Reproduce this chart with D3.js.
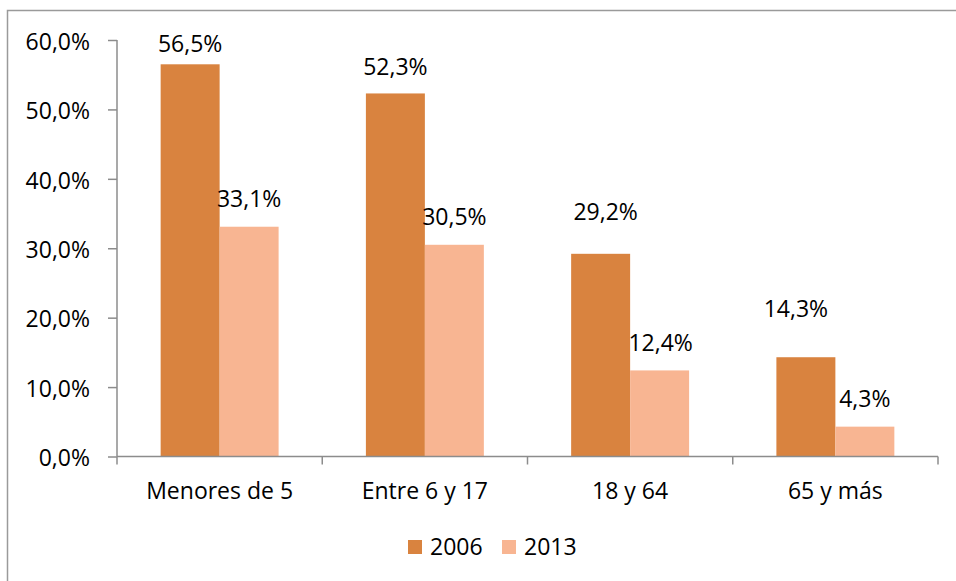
<!DOCTYPE html>
<html>
<head>
<meta charset="utf-8">
<script src="https://cdn.jsdelivr.net/npm/d3@7/dist/d3.min.js"></script>
<style>
  body { margin: 0; background: #fff; }
  text { font-family: "Open Sans", "Noto Sans", sans-serif; fill: #000; }
</style>
</head>
<body>
<script>
// data (percent)
var categories = ["Menores de 5", "Entre 6 y 17", "18 y 64", "65 y más"];
var seriesNames = ["2006", "2013"];
var values2006 = [56.5, 52.3, 29.2, 14.3];
var values2013 = [33.1, 30.5, 12.4, 4.3];
var yTicks = [0, 10, 20, 30, 40, 50, 60];

var colors = { "2006": "#d9833f", "2013": "#f8b592" };

// label offsets (dx, gap above bar top) to mimic the hand-moved labels
var labelNudge = {
  "2006": [[0, 12], [0, 18], [5, 34], [-10, 40]],
  "2013": [[0, 19.5], [0, 19.5], [1, 19.5], [0, 19.5]]
};

var w = 956;
var h = 581;
var plotLeft = 117, plotRight = 938, plotTop = 40, plotBottom = 456.5;

var svg = d3.select("body")
            .append("svg")
            .attr("width", w)
            .attr("height", h);

// outer frame (runs off the right and bottom edge)
svg.append("rect")
   .attr("x", 7.5)
   .attr("y", 10.5)
   .attr("width", 1000)
   .attr("height", 1000)
   .attr("fill", "none")
   .attr("stroke", "#9a9a9a")
   .attr("stroke-width", 1.5);

var locale = d3.formatLocale({ decimal: ",", thousands: ".", grouping: [3], currency: ["", "€"] });
var fmt = locale.format(".1f");

var y = d3.scaleLinear()
          .domain([0, 60])
          .range([plotBottom, plotTop]);

var x0 = d3.scaleBand()
           .domain(categories)
           .range([plotLeft, plotRight]);

var x1 = d3.scaleBand()
           .domain(seriesNames)
           .range([0, x0.bandwidth()])
           .paddingOuter(0.74);

var rows = categories.map(function(c, i) {
  return { cat: c, vals: [
    { s: "2006", v: values2006[i], i: i },
    { s: "2013", v: values2013[i], i: i }
  ]};
});

var axisColor = "#8c8c8c";

// y axis
var yAxis = svg.append("g")
               .attr("transform", "translate(" + plotLeft + ",0)")
               .call(d3.axisLeft(y).tickValues(yTicks).tickSize(9).tickPadding(18)
                       .tickFormat(function(d) { return fmt(d) + "%"; }));
yAxis.select(".domain").attr("stroke", axisColor).attr("stroke-width", 1.5)
     .attr("d", "M0," + plotTop + "V" + plotBottom);
yAxis.selectAll(".tick line").attr("stroke", axisColor).attr("stroke-width", 1.5);
yAxis.selectAll(".tick text")
     .attr("dy", "0.4em")
     .style("font-size", "23px")
     .attr("fill", "#000");

// groups of bars
var groups = svg.selectAll(".grp")
                .data(rows)
                .enter().append("g")
                .attr("class", "grp")
                .attr("transform", function(d) { return "translate(" + x0(d.cat) + ",0)"; });

groups.selectAll("rect")
      .data(function(d) { return d.vals; })
      .enter().append("rect")
      .attr("x", function(d) { return x1(d.s); })
      .attr("y", function(d) { return y(d.v); })
      .attr("width", x1.bandwidth())
      .attr("height", function(d) { return y(0) - y(d.v); })
      .attr("fill", function(d) { return colors[d.s]; });

groups.selectAll("text.lbl")
      .data(function(d) { return d.vals; })
      .enter().append("text")
      .attr("class", "lbl")
      .attr("x", function(d) { return x1(d.s) + x1.bandwidth() / 2 + labelNudge[d.s][d.i][0]; })
      .attr("y", function(d) { return y(d.v) - labelNudge[d.s][d.i][1]; })
      .attr("text-anchor", "middle")
      .style("font-size", "23px")
      .text(function(d) { return fmt(d.v) + "%"; });

// x axis
var xAxis = svg.append("g")
               .attr("transform", "translate(0," + plotBottom + ")");
xAxis.append("line")
     .attr("x1", plotLeft).attr("x2", plotRight)
     .attr("stroke", axisColor).attr("stroke-width", 1.5);
var bounds = categories.map(function(c) { return x0(c); }).concat([plotRight]);
xAxis.selectAll(".xt")
     .data(bounds)
     .enter().append("line")
     .attr("class", "xt")
     .attr("x1", function(d) { return d; })
     .attr("x2", function(d) { return d; })
     .attr("y1", 0).attr("y2", 8)
     .attr("stroke", axisColor).attr("stroke-width", 1.5);
xAxis.selectAll(".xl")
     .data(categories)
     .enter().append("text")
     .attr("class", "xl")
     .attr("x", function(d) { return x0(d) + x0.bandwidth() / 2; })
     .attr("y", 42)
     .attr("text-anchor", "middle")
     .style("font-size", "23px")
     .text(function(d) { return d; });

// legend
var legendX = [408, 502];
var legend = svg.selectAll(".legend")
                .data(seriesNames)
                .enter().append("g")
                .attr("class", "legend")
                .attr("transform", function(d, i) { return "translate(" + legendX[i] + ",540)"; });
legend.append("rect")
      .attr("width", 14)
      .attr("height", 14)
      .attr("fill", function(d) { return colors[d]; });
legend.append("text")
      .attr("x", 22)
      .attr("y", 15)
      .style("font-size", "23px")
      .text(function(d) { return d; });
</script>
</body>
</html>
